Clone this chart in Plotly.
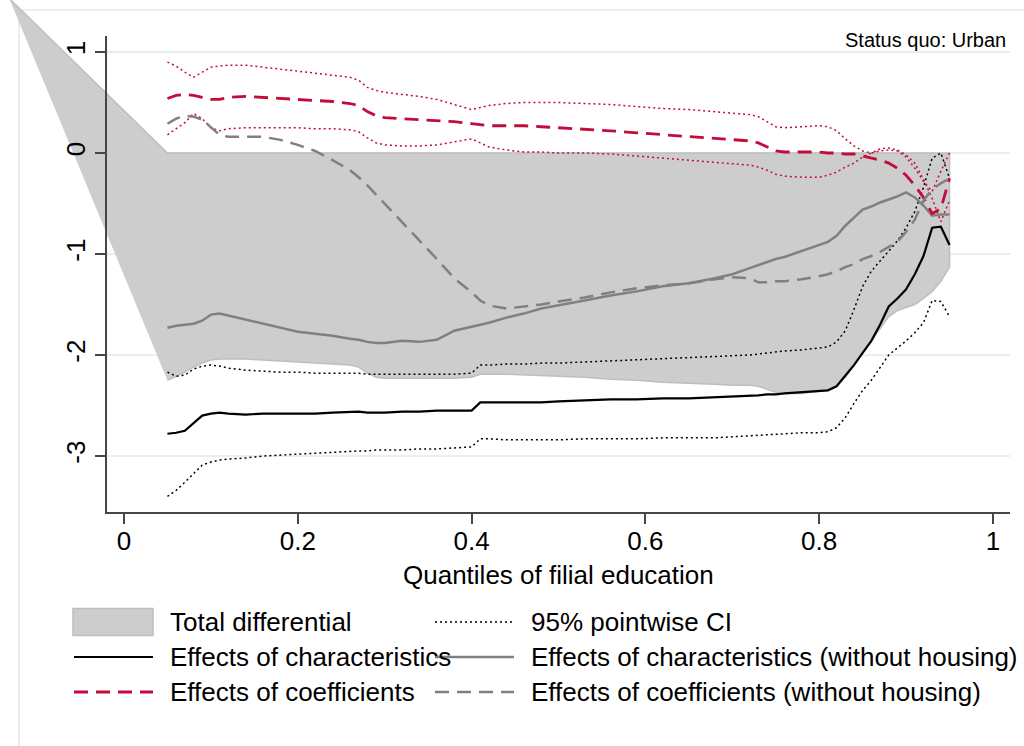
import plotly.graph_objects as go

# ---------------- data ----------------
quantile = [0.05,0.06,0.07,0.08,0.09,0.10,0.11,0.12,0.14,0.16,0.18,0.20,0.22,0.24,0.26,0.27,0.28,0.29,0.30,
            0.32,0.34,0.36,0.38,0.40,0.41,0.42,0.44,0.46,0.48,0.50,0.53,0.56,0.59,0.62,0.65,0.68,0.70,0.72,
            0.73,0.74,0.75,0.76,0.78,0.80,0.81,0.82,0.83,0.84,0.85,0.86,0.87,0.88,0.89,0.90,0.91,0.92,0.93,0.94,0.95]

total_diff = [-2.25,-2.21,-2.17,-2.12,-2.08,-2.05,-2.04,-2.04,-2.04,-2.05,-2.06,-2.07,-2.08,-2.09,-2.10,-2.12,-2.18,-2.22,-2.23,
              -2.23,-2.23,-2.23,-2.23,-2.22,-2.19,-2.19,-2.19,-2.20,-2.20,-2.21,-2.22,-2.24,-2.25,-2.27,-2.28,-2.29,-2.30,-2.30,
              -2.31,-2.34,-2.37,-2.38,-2.38,-2.36,-2.35,-2.30,-2.22,-2.10,-1.98,-1.86,-1.74,-1.62,-1.56,-1.53,-1.50,-1.44,-1.37,-1.27,-1.13]
# stray vertex of the shaded area polygon (as drawn in the source graph)
area_vertex_q = -0.132
area_vertex_v = 1.53

char_eff = [-2.78,-2.77,-2.75,-2.67,-2.60,-2.58,-2.57,-2.58,-2.59,-2.58,-2.58,-2.58,-2.58,-2.57,-2.56,-2.56,-2.57,-2.57,-2.57,
            -2.56,-2.56,-2.55,-2.55,-2.55,-2.47,-2.47,-2.47,-2.47,-2.47,-2.46,-2.45,-2.44,-2.44,-2.43,-2.43,-2.42,-2.41,-2.40,
            -2.40,-2.39,-2.39,-2.38,-2.37,-2.36,-2.35,-2.31,-2.21,-2.10,-1.98,-1.86,-1.70,-1.52,-1.44,-1.35,-1.20,-1.02,-0.74,-0.73,-0.91]
char_hi = [-2.17,-2.21,-2.20,-2.14,-2.11,-2.10,-2.11,-2.13,-2.15,-2.16,-2.17,-2.17,-2.18,-2.18,-2.18,-2.18,-2.19,-2.19,-2.19,
           -2.19,-2.19,-2.19,-2.19,-2.18,-2.10,-2.10,-2.09,-2.09,-2.08,-2.08,-2.07,-2.06,-2.05,-2.04,-2.03,-2.02,-2.01,-2.00,
           -1.99,-1.98,-1.97,-1.96,-1.95,-1.93,-1.92,-1.87,-1.76,-1.55,-1.32,-1.17,-1.07,-0.97,-0.87,-0.74,-0.58,-0.34,-0.05,0.00,-0.25]
char_lo = [-3.40,-3.34,-3.26,-3.17,-3.09,-3.06,-3.04,-3.03,-3.02,-3.00,-2.99,-2.98,-2.97,-2.96,-2.95,-2.95,-2.95,-2.94,-2.94,
           -2.94,-2.93,-2.93,-2.92,-2.91,-2.83,-2.83,-2.84,-2.84,-2.84,-2.84,-2.83,-2.83,-2.83,-2.82,-2.82,-2.82,-2.81,-2.80,
           -2.80,-2.79,-2.79,-2.78,-2.77,-2.77,-2.76,-2.72,-2.62,-2.48,-2.35,-2.25,-2.12,-2.00,-1.93,-1.86,-1.78,-1.68,-1.46,-1.47,-1.62]

coef_eff = [0.54,0.57,0.58,0.57,0.55,0.53,0.53,0.55,0.56,0.55,0.54,0.53,0.52,0.51,0.49,0.47,0.41,0.37,0.35,
            0.34,0.33,0.32,0.31,0.29,0.28,0.27,0.27,0.27,0.26,0.25,0.24,0.22,0.20,0.18,0.16,0.14,0.13,0.12,
            0.10,0.06,0.02,0.01,0.01,0.01,0.00,0.00,-0.01,-0.01,-0.03,-0.05,-0.07,-0.10,-0.15,-0.22,-0.32,-0.44,-0.60,-0.55,-0.25]
coef_hi = [0.90,0.86,0.80,0.75,0.80,0.85,0.86,0.87,0.87,0.85,0.83,0.81,0.79,0.77,0.75,0.72,0.65,0.62,0.60,
           0.58,0.56,0.53,0.48,0.43,0.45,0.47,0.49,0.50,0.50,0.50,0.49,0.48,0.46,0.44,0.43,0.41,0.40,0.38,
           0.36,0.31,0.26,0.25,0.26,0.27,0.26,0.22,0.14,0.07,0.02,0.00,0.02,0.03,0.02,-0.04,-0.15,-0.28,-0.38,-0.18,0.00]
coef_lo = [0.18,0.24,0.30,0.39,0.34,0.25,0.22,0.24,0.25,0.25,0.25,0.25,0.24,0.24,0.23,0.21,0.15,0.10,0.08,
           0.07,0.07,0.08,0.11,0.14,0.10,0.06,0.03,0.01,0.01,0.00,0.00,-0.01,-0.03,-0.05,-0.07,-0.09,-0.10,-0.12,
           -0.14,-0.17,-0.21,-0.23,-0.24,-0.24,-0.22,-0.19,-0.14,-0.10,-0.04,0.00,0.04,0.05,0.03,-0.02,-0.10,-0.26,-0.45,-0.68,-0.47]

char_nohouse = [-1.73,-1.71,-1.70,-1.69,-1.66,-1.60,-1.59,-1.61,-1.65,-1.69,-1.73,-1.77,-1.79,-1.81,-1.84,-1.85,-1.87,-1.88,-1.88,
                -1.86,-1.87,-1.85,-1.76,-1.72,-1.70,-1.68,-1.63,-1.59,-1.54,-1.51,-1.46,-1.41,-1.37,-1.32,-1.29,-1.24,-1.20,-1.14,
                -1.11,-1.08,-1.05,-1.03,-0.97,-0.91,-0.88,-0.82,-0.72,-0.64,-0.56,-0.53,-0.49,-0.46,-0.43,-0.39,-0.44,-0.52,-0.62,-0.61,-0.61]
coef_nohouse = [0.29,0.34,0.37,0.36,0.33,0.25,0.18,0.16,0.16,0.16,0.13,0.08,0.02,-0.07,-0.17,-0.24,-0.32,-0.41,-0.50,
                -0.68,-0.86,-1.05,-1.24,-1.38,-1.46,-1.51,-1.54,-1.52,-1.50,-1.47,-1.43,-1.38,-1.34,-1.31,-1.29,-1.25,-1.23,-1.24,
                -1.28,-1.28,-1.27,-1.27,-1.25,-1.22,-1.20,-1.17,-1.13,-1.10,-1.05,-1.02,-0.98,-0.93,-0.88,-0.78,-0.66,-0.47,-0.36,-0.30,-0.25]

x_ticks = [0, 0.2, 0.4, 0.6, 0.8, 1]
x_ticktext = ["0", "0.2", "0.4", "0.6", "0.8", "1"]
y_ticks = [-3, -2, -1, 0, 1]
y_ticktext = ["-3", "-2", "-1", "0", "1"]
x_title = "Quantiles of filial education"
note_text = "Status quo: Urban"

legend_labels = ["Total differential", "95% pointwise CI",
                 "Effects of characteristics", "Effects of characteristics (without housing)",
                 "Effects of coefficients", "Effects of coefficients (without housing)"]

# ---------------- style / geometry ----------------
W, H = 1024, 746
PX0, PX1 = 107, 1010       # plot box (px)
PY0, PY1 = 36, 512
X_AT0, X_PER = 124, 869    # x=0 at px 124, 869 px per unit
Y_AT0, Y_PER = 153, 101    # y=0 at px 153, 101 px per unit

RED = "rgb(196,12,58)"
GREY = "rgb(128,128,128)"
AREA = "rgb(205,205,205)"
AREA_EDGE = "rgb(190,190,190)"
GRID = "rgb(232,239,241)"
AXC = "rgb(70,70,70)"
FONT = "Liberation Sans, Arial, sans-serif"
DOT = "2px,3px"
DASH = "14px,8px"


def px2x(p):
    return (p - X_AT0) / X_PER


def px2y(p):
    return (Y_AT0 - p) / Y_PER


def pxp(x):
    return x / W


def pyp(y):
    return 1 - y / H


fig = go.Figure()

# shaded total differential (area to zero, full-page axes so it is not clipped)
area_x = [area_vertex_q, quantile[0], quantile[-1]] + quantile[::-1]
area_y = [area_vertex_v, 0, 0] + total_diff[::-1]
fig.add_trace(go.Scatter(x=area_x, y=area_y, fill="toself", fillcolor=AREA, mode="lines",
                         line=dict(color=AREA_EDGE, width=1.5), name=legend_labels[0],
                         showlegend=False, hoverinfo="skip"))

for ci in (char_hi, char_lo):
    fig.add_trace(go.Scatter(x=quantile, y=ci, mode="lines", line=dict(color="black", width=1.5, dash=DOT),
                             showlegend=False, name=legend_labels[1]))
for ci in (coef_hi, coef_lo):
    fig.add_trace(go.Scatter(x=quantile, y=ci, mode="lines", line=dict(color=RED, width=1.5, dash=DOT),
                             showlegend=False, name=legend_labels[1]))

fig.add_trace(go.Scatter(x=quantile, y=char_eff, mode="lines", line=dict(color="black", width=2.2),
                         showlegend=False, name=legend_labels[2]))
fig.add_trace(go.Scatter(x=quantile, y=char_nohouse, mode="lines", line=dict(color=GREY, width=2.5),
                         showlegend=False, name=legend_labels[3]))
fig.add_trace(go.Scatter(x=quantile, y=coef_eff, mode="lines", line=dict(color=RED, width=2.8, dash=DASH),
                         showlegend=False, name=legend_labels[4]))
fig.add_trace(go.Scatter(x=quantile, y=coef_nohouse, mode="lines", line=dict(color=GREY, width=2.5, dash=DASH),
                         showlegend=False, name=legend_labels[5]))

# dummy trace to materialise the visible axes
fig.add_trace(go.Scatter(x=[None], y=[None], xaxis="x2", yaxis="y2", showlegend=False, hoverinfo="skip"))

x_full = [px2x(0), px2x(W)]
y_full = [px2y(H), px2y(0)]
x_box = [px2x(PX0), px2x(PX1)]
y_box = [px2y(PY1), px2y(PY0)]

shapes = []
# outer graph-region border (light)
shapes.append(dict(type="rect", xref="paper", yref="paper", x0=pxp(19), x1=1.02, y0=-0.02, y1=pyp(10),
                   line=dict(color=GRID, width=2), fillcolor="rgba(0,0,0,0)", layer="below"))
# horizontal gridlines at the y ticks
for v in y_ticks:
    shapes.append(dict(type="line", xref="x", yref="y", x0=x_box[0], x1=x_box[1], y0=v, y1=v,
                       line=dict(color=GRID, width=2), layer="below"))

# manual legend (Stata style, two columns)
rows = [622, 657, 692]
c1, c2 = 73, 434
shapes.append(dict(type="rect", xref="paper", yref="paper", x0=pxp(c1), x1=pxp(c1 + 80),
                   y0=pyp(rows[0] + 13.5), y1=pyp(rows[0] - 13.5), fillcolor=AREA,
                   line=dict(color=AREA_EDGE, width=1.5), layer="above"))
leg_lines = [
    (c2, rows[0], "black", 1.5, DOT),
    (c1, rows[1], "black", 2.2, "solid"),
    (c2, rows[1], GREY, 2.5, "solid"),
    (c1, rows[2], RED, 2.8, DASH),
    (c2, rows[2], GREY, 2.5, DASH),
]
for x0, yy, col, wd, ds in leg_lines:
    shapes.append(dict(type="line", xref="paper", yref="paper", x0=pxp(x0 + 1), x1=pxp(x0 + 80),
                       y0=pyp(yy), y1=pyp(yy), line=dict(color=col, width=wd, dash=ds), layer="above"))

annotations = []
text_pos = [(168, rows[0]), (529, rows[0]), (168, rows[1]), (529, rows[1]), (168, rows[2]), (529, rows[2])]
for lab, (tx, ty) in zip(legend_labels, text_pos):
    annotations.append(dict(text=lab, xref="paper", yref="paper", x=pxp(tx), y=pyp(ty), xanchor="left",
                            yanchor="middle", showarrow=False, font=dict(family=FONT, size=26, color="black")))
annotations.append(dict(text=note_text, xref="paper", yref="paper", x=pxp(1008), y=pyp(40),
                        xanchor="right", yanchor="middle", showarrow=False,
                        font=dict(family=FONT, size=20, color="black")))
# x-axis title (placed tight under the tick labels, as in the source)
annotations.append(dict(text=x_title, xref="x2", yref="paper", x=0.5, y=pyp(575),
                        xanchor="center", yanchor="middle", showarrow=False,
                        font=dict(family=FONT, size=26, color="black")))

fig.update_layout(
    width=W, height=H,
    margin=dict(l=0, r=0, t=0, b=0),
    paper_bgcolor="white", plot_bgcolor="rgba(0,0,0,0)",
    showlegend=False,
    font=dict(family=FONT, size=26, color="black"),
    xaxis=dict(domain=[0, 1], range=x_full, visible=False, fixedrange=True),
    yaxis=dict(domain=[0, 1], range=y_full, visible=False, fixedrange=True),
    xaxis2=dict(domain=[pxp(PX0), pxp(PX1)], range=x_box, anchor="y2",
                showline=True, linecolor=AXC, linewidth=1.5, ticks="outside", ticklen=10, tickwidth=1.5,
                tickcolor=AXC, tickvals=x_ticks, ticktext=x_ticktext, showgrid=False, zeroline=False,
                ticklabelstandoff=-5,
                tickfont=dict(family=FONT, size=26), fixedrange=True),
    yaxis2=dict(domain=[pyp(PY1), pyp(PY0)], range=y_box, anchor="x2",
                showline=True, linecolor=AXC, linewidth=1.5, ticks="outside", ticklen=10, tickwidth=1.5,
                tickcolor=AXC, tickvals=y_ticks, ticktext=y_ticktext, tickangle=-90, showgrid=False,
                zeroline=False, tickfont=dict(family=FONT, size=26), fixedrange=True),
    shapes=shapes,
    annotations=annotations,
)

fig.write_html("out.html", config={"displayModeBar": False},
               post_script="document.body.style.margin='0px';document.body.style.overflow='hidden';")
